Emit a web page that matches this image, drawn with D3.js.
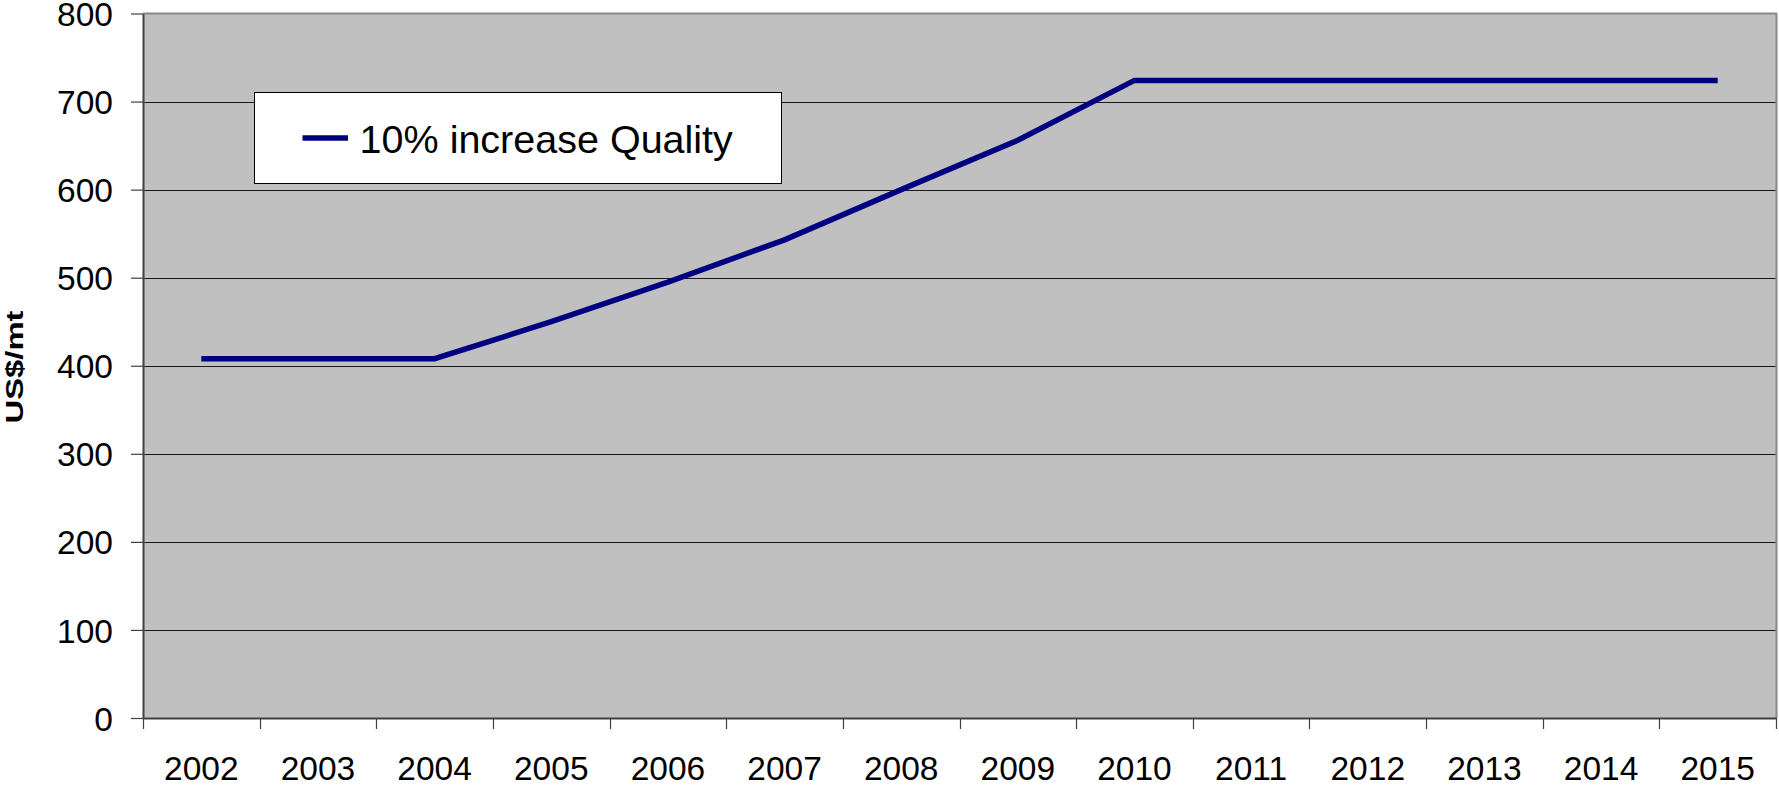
<!DOCTYPE html>
<html>
<head>
<meta charset="utf-8">
<script src="https://cdn.jsdelivr.net/npm/d3@7"></script>
<style>
  html, body { margin: 0; padding: 0; background: #fff; }
  svg { display: block; font-family: "Liberation Sans", Arial, sans-serif; }
</style>
</head>
<body>
<svg id="chart" width="1779" height="789"></svg>
<script>
const years = ["2002","2003","2004","2005","2006","2007","2008","2009","2010","2011","2012","2013","2014","2015"];
const values = [408, 408, 408, 450, 495, 543, 600, 656, 724, 724, 724, 724, 724, 724];
const yTicks = [0, 100, 200, 300, 400, 500, 600, 700, 800];
const seriesName = "10% increase Quality";
const yTitle = "US$/mt";

const svg = d3.select("#chart");
const L = 143, R = 1776, T = 13.5, B = 718;

const x = d3.scaleBand().domain(years).range([L, R]);
const y = d3.scaleLinear().domain([0, 800]).range([B, T]);

// plot background
svg.append("rect").attr("x", L).attr("y", T).attr("width", R - L).attr("height", B - T).attr("fill", "#c0c0c0");

// gridlines
svg.append("g").selectAll("line").data(yTicks.filter(d => d > 0 && d < 800)).join("line")
  .attr("x1", L).attr("x2", R)
  .attr("y1", d => Math.round(y(d)) + 0.5).attr("y2", d => Math.round(y(d)) + 0.5)
  .attr("stroke", "#1a1a1a").attr("stroke-width", 1.2);

// top and right border
svg.append("line").attr("x1", L).attr("x2", R + 1).attr("y1", T).attr("y2", T).attr("stroke", "#888").attr("stroke-width", 2);
svg.append("line").attr("x1", R + 0.5).attr("x2", R + 0.5).attr("y1", T).attr("y2", B).attr("stroke", "#888").attr("stroke-width", 2);

// y axis
const yAxis = d3.axisLeft(y).tickValues(yTicks).tickSize(12).tickPadding(18).tickSizeOuter(0);
const gy = svg.append("g").attr("transform", `translate(${L},0)`).call(yAxis);
gy.select(".domain").attr("stroke", "#404040").attr("stroke-width", 2);
gy.selectAll(".tick line").attr("stroke", "#404040").attr("stroke-width", 1.2);
gy.selectAll("text").attr("font-size", 33.5).attr("dy", "0.36em").attr("fill", "#000").attr("font-family", "Liberation Sans, Arial, sans-serif");

// x axis (labels at band centers)
const xAxis = d3.axisBottom(x).tickSize(0).tickPadding(38.6).tickSizeOuter(0);
const gx = svg.append("g").attr("transform", `translate(0,${B})`).call(xAxis);
gx.select(".domain").attr("stroke", "#404040").attr("stroke-width", 2);
gx.selectAll("text").attr("font-size", 33.5).attr("fill", "#000").attr("font-family", "Liberation Sans, Arial, sans-serif");

// x tick marks at band boundaries
const bounds = years.map(d => x(d)).concat([x(years[years.length - 1]) + x.bandwidth()]);
svg.append("g").selectAll("line").data(bounds).join("line")
  .attr("x1", d => Math.round(d) + 0.5).attr("x2", d => Math.round(d) + 0.5)
  .attr("y1", B).attr("y2", B + 11)
  .attr("stroke", "#404040").attr("stroke-width", 1.2);

// series line
const line = d3.line().x((d, i) => x(years[i]) + x.bandwidth() / 2).y(d => y(d));
svg.append("path").datum(values).attr("d", line)
  .attr("fill", "none").attr("stroke", "#000080").attr("stroke-width", 5.5)
  .attr("stroke-linejoin", "miter");

// legend
const lg = svg.append("g");
lg.append("rect").attr("x", 254.5).attr("y", 92.5).attr("width", 527).attr("height", 91)
  .attr("fill", "#fff").attr("stroke", "#000").attr("stroke-width", 1);
lg.append("line").attr("x1", 302.5).attr("x2", 348).attr("y1", 138).attr("y2", 138)
  .attr("stroke", "#000080").attr("stroke-width", 5.5);
lg.append("text").attr("x", 359.6).attr("y", 152.7).attr("font-size", 39.5).attr("fill", "#000").text(seriesName);

// y title
svg.append("text")
  .attr("transform", "translate(23.3,367) rotate(-90)")
  .attr("text-anchor", "middle").attr("font-weight", "bold").attr("font-size", 23.5)
  .attr("textLength", 113).attr("lengthAdjust", "spacingAndGlyphs")
  .attr("fill", "#000").text(yTitle);
</script>
</body>
</html>
